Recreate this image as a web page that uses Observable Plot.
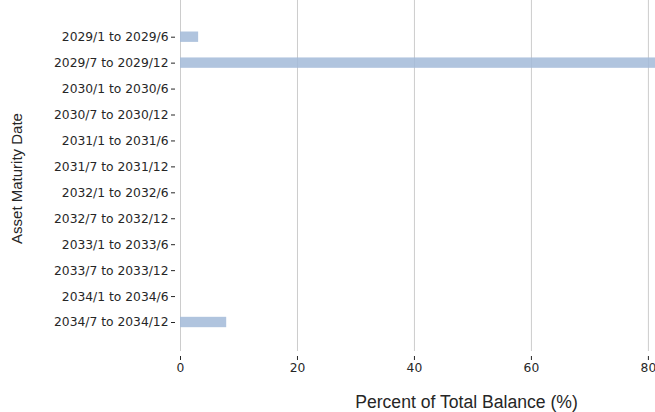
<!DOCTYPE html>
<html><head><meta charset="utf-8">
<script src="https://cdn.jsdelivr.net/npm/d3@7"></script>
<script src="https://cdn.jsdelivr.net/npm/@observablehq/plot@0.6"></script>
<style>
html,body{margin:0;padding:0;overflow:hidden;background:#fff;width:655px;height:412px}
#chart{width:655px;height:412px;overflow:hidden}
#chart svg{display:block;max-width:none !important}
</style></head><body><div id="chart"></div>
<script>
const categories = ["2029/1 to 2029/6", "2029/7 to 2029/12", "2030/1 to 2030/6", "2030/7 to 2030/12",
  "2031/1 to 2031/6", "2031/7 to 2031/12", "2032/1 to 2032/6", "2032/7 to 2032/12",
  "2033/1 to 2033/6", "2033/7 to 2033/12", "2034/1 to 2034/6", "2034/7 to 2034/12"];
const values = [3.1, 89.0, 0, 0, 0, 0, 0, 0, 0, 0, 0, 7.9];
const xTicks = [0, 20, 40, 60, 80];
const xLabel = "Percent of Total Balance (%)";
const yLabel = "Asset Maturity Date";

const data = categories.map((c, i) => ({category: c, value: values[i]}));

const plot = Plot.plot({
  width: 760, height: 412,
  marginLeft: 180, marginRight: 8, marginTop: 0, marginBottom: 61,
  style: {fontFamily: "DejaVu Sans", fontSize: "12.3px", color: "#262626", background: "#fff", maxWidth: "none"},
  x: {domain: [0, 97.8], ticks: xTicks},
  y: {domain: categories, range: [15.95, 342.75], padding: 0.6, round: false},
  marks: [
    Plot.gridX(xTicks, {stroke: "#cccccc", strokeOpacity: 1, strokeWidth: 1}),
    Plot.barX(data, {x: "value", y: "category", fill: "rgb(162,186,216)", fillOpacity: 0.85}),
    Plot.axisX(xTicks, {tickSize: 4, tickPadding: 3, dy: 5, label: null, fontSize: 12.3}),
    Plot.axisY({tickSize: 4, tickPadding: 3, dx: -5, label: null, fontSize: 12.3}),
    Plot.text([xLabel], {frameAnchor: "bottom", textAnchor: "middle", lineAnchor: "middle", dy: 50.5,
      fontFamily: "Liberation Sans", fontSize: 17.6, fill: "#262626"}),
    Plot.text([yLabel], {frameAnchor: "left", textAnchor: "middle", lineAnchor: "middle", dx: -163, dy: 2.5, rotate: -90,
      fontFamily: "Liberation Sans", fontSize: 15, fill: "#262626"})
  ]
});
document.getElementById("chart").appendChild(plot);
</script></body></html>
